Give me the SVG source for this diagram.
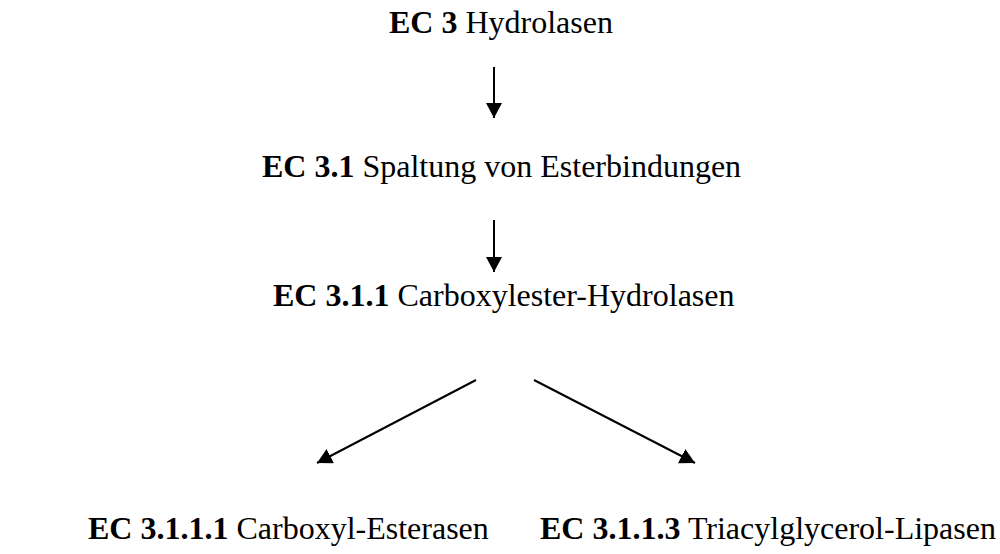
<svg xmlns="http://www.w3.org/2000/svg" width="1000" height="554" viewBox="0 0 1000 554">
<style>
.t{font-family:"Liberation Serif","Times New Roman",serif;font-size:32px;fill:#000}
.b{font-weight:bold}
.c{stroke:#000;stroke-width:2;fill:none}
</style>
<defs>
<marker id="ah" markerUnits="userSpaceOnUse" markerWidth="18" markerHeight="18" refX="15" refY="8" orient="auto">
<path d="M0,0 L15,8 L0,16 Z" fill="#000"/>
</marker>
</defs>
<rect width="1000" height="554" fill="#fff"/>
<g id="n1"><text class="t" x="389" y="33"><tspan class="b">EC 3</tspan> Hydrolasen</text></g>
<g id="n2"><text class="t" x="262" y="177"><tspan class="b">EC 3.1</tspan> Spaltung von Esterbindungen</text></g>
<g id="n3"><text class="t" x="273" y="306"><tspan class="b">EC 3.1.1</tspan> Carboxylester-Hydrolasen</text></g>
<g id="n4"><text class="t" x="88" y="539"><tspan class="b">EC 3.1.1.1</tspan> Carboxyl-Esterasen</text></g>
<g id="n5"><text class="t" x="540" y="539"><tspan class="b">EC 3.1.1.3</tspan> Triacylglycerol-Lipasen</text></g>
<g id="connectors">
<line class="c" x1="494" y1="67" x2="494" y2="118" marker-end="url(#ah)"/>
<line class="c" x1="494" y1="220" x2="494" y2="272" marker-end="url(#ah)"/>
<line class="c" x1="476" y1="380" x2="317" y2="463" marker-end="url(#ah)"/>
<line class="c" x1="534" y1="380" x2="695" y2="463" marker-end="url(#ah)"/>
</g>
</svg>
